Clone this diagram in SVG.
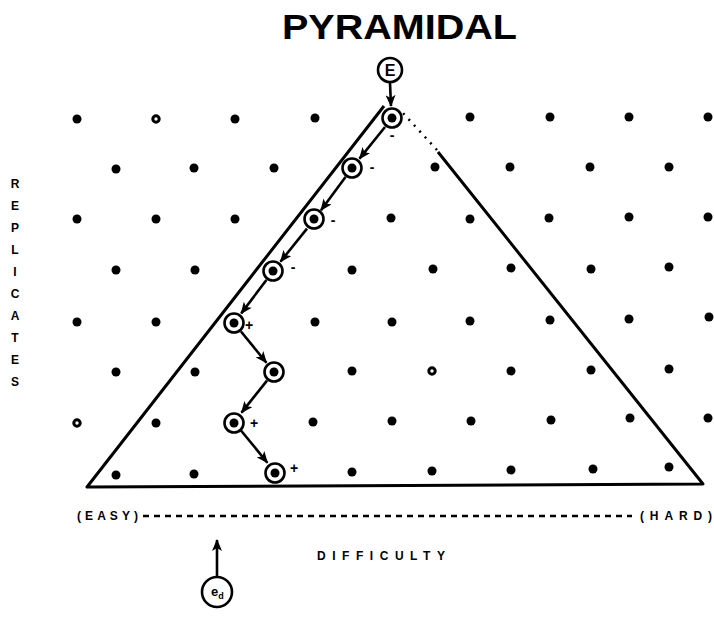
<svg xmlns="http://www.w3.org/2000/svg" width="714" height="617" viewBox="0 0 714 617">
<style>
.dot{fill:#000}
.ring{fill:#fff;stroke:#000;stroke-width:3}
.node circle.o{fill:#fff;stroke:#000;stroke-width:2.6}
.node circle.i{fill:#000}
.edge{stroke:#000;stroke-width:2.6;fill:none}
.tri{stroke:#000;stroke-width:3;fill:none;stroke-linejoin:round}
.lbl{font-family:"Liberation Sans",Arial,sans-serif;font-weight:bold;fill:#000}
.sign{font-family:"Liberation Sans",Arial,sans-serif;font-weight:bold;font-size:14px;fill:#000}
</style>
<defs>
<marker id="ah" markerUnits="userSpaceOnUse" markerWidth="12" markerHeight="10" refX="11" refY="5" orient="auto">
<path d="M0,0 L12,5 L0,10 L3,5 z" fill="#000"/>
</marker>
</defs>
<rect width="714" height="617" fill="#fff"/>
<text class="lbl" x="282" y="39" font-size="35" textLength="235" lengthAdjust="spacingAndGlyphs">PYRAMIDAL</text>
<g id="grid">
<circle class="dot" cx="77" cy="119" r="4.5"/><circle class="ring" cx="156" cy="119" r="3.2"/><circle class="dot" cx="235" cy="119" r="4.5"/><circle class="dot" cx="315" cy="118" r="4.5"/><circle class="dot" cx="470" cy="117" r="4.5"/><circle class="dot" cx="550" cy="117" r="4.5"/><circle class="dot" cx="629" cy="117" r="4.5"/><circle class="dot" cx="708" cy="117" r="4.5"/>
<circle class="dot" cx="116" cy="169" r="4.5"/><circle class="dot" cx="194" cy="168" r="4.5"/><circle class="dot" cx="274" cy="168" r="4.5"/><circle class="dot" cx="435" cy="167" r="4.5"/><circle class="dot" cx="510" cy="167" r="4.5"/><circle class="dot" cx="590" cy="167" r="4.5"/><circle class="dot" cx="669" cy="167" r="4.5"/>
<circle class="dot" cx="77" cy="219" r="4.5"/><circle class="dot" cx="156" cy="219" r="4.5"/><circle class="dot" cx="235" cy="219" r="4.5"/><circle class="dot" cx="391" cy="218" r="4.5"/><circle class="dot" cx="470" cy="219" r="4.5"/><circle class="dot" cx="549" cy="218" r="4.5"/><circle class="dot" cx="629" cy="217" r="4.5"/><circle class="dot" cx="708" cy="217" r="4.5"/>
<circle class="dot" cx="116" cy="270" r="4.5"/><circle class="dot" cx="195" cy="270" r="4.5"/><circle class="dot" cx="352" cy="270" r="4.5"/><circle class="dot" cx="433" cy="269" r="4.5"/><circle class="dot" cx="511" cy="268" r="4.5"/><circle class="dot" cx="591" cy="269" r="4.5"/><circle class="dot" cx="669" cy="267" r="4.5"/>
<circle class="dot" cx="77" cy="322" r="4.5"/><circle class="dot" cx="156" cy="322" r="4.5"/><circle class="dot" cx="315" cy="322" r="4.5"/><circle class="dot" cx="392" cy="322" r="4.5"/><circle class="dot" cx="470" cy="321" r="4.5"/><circle class="dot" cx="550" cy="320" r="4.5"/><circle class="dot" cx="629" cy="319" r="4.5"/><circle class="dot" cx="709" cy="317" r="4.5"/>
<circle class="dot" cx="116" cy="372" r="4.5"/><circle class="dot" cx="195" cy="372" r="4.5"/><circle class="dot" cx="352" cy="371" r="4.5"/><circle class="ring" cx="432" cy="371" r="3.2"/><circle class="dot" cx="511" cy="371" r="4.5"/><circle class="dot" cx="591" cy="370" r="4.5"/><circle class="dot" cx="669" cy="369" r="4.5"/>
<circle class="ring" cx="77" cy="423" r="3.2"/><circle class="dot" cx="156" cy="423" r="4.5"/><circle class="dot" cx="313" cy="422" r="4.5"/><circle class="dot" cx="392" cy="421" r="4.5"/><circle class="dot" cx="471" cy="421" r="4.5"/><circle class="dot" cx="551" cy="420" r="4.5"/><circle class="dot" cx="630" cy="418" r="4.5"/><circle class="dot" cx="708" cy="418" r="4.5"/>
<circle class="dot" cx="116" cy="475" r="4.5"/><circle class="dot" cx="194" cy="474" r="4.5"/><circle class="dot" cx="352" cy="472" r="4.5"/><circle class="dot" cx="432" cy="471" r="4.5"/><circle class="dot" cx="511" cy="470" r="4.5"/><circle class="dot" cx="593" cy="469" r="4.5"/><circle class="dot" cx="669" cy="467" r="4.5"/>
</g>
<g id="triangle">
<path class="tri" d="M384,106 L87,487 L703,484 L438,152"/>
<path d="M437,150 L402,112" stroke="#000" stroke-width="2.5" stroke-dasharray="2,6" fill="none"/>
</g>
<g id="connectors">
<line class="edge" x1="390" y1="83" x2="391" y2="106" marker-end="url(#ah)"/>
<line class="edge" x1="385" y1="127" x2="359.5" y2="158.6" marker-end="url(#ah)"/>
<line class="edge" x1="345.5" y1="177" x2="321" y2="210.3" marker-end="url(#ah)"/>
<line class="edge" x1="307" y1="228.6" x2="280.5" y2="261.6" marker-end="url(#ah)"/>
<line class="edge" x1="266.4" y1="280" x2="241.2" y2="313.4" marker-end="url(#ah)"/>
<line class="edge" x1="241" y1="331.5" x2="266.4" y2="362.7" marker-end="url(#ah)"/>
<line class="edge" x1="267" y1="380.6" x2="241.5" y2="412.6" marker-end="url(#ah)"/>
<line class="edge" x1="241" y1="430.5" x2="267.4" y2="462.7" marker-end="url(#ah)"/>
<line class="edge" x1="217" y1="576" x2="217" y2="540" marker-end="url(#ah)"/>
</g>
<g id="E" class="node"><circle class="o" cx="390" cy="70" r="12"/><text class="lbl" x="390" y="76" font-size="16" text-anchor="middle">E</text></g>
<g id="n1" class="node"><circle class="o" cx="392" cy="118" r="9.5"/><circle class="i" cx="392" cy="118" r="4.5"/><text class="sign" x="392" y="140" text-anchor="middle">-</text></g>
<g id="n2" class="node"><circle class="o" cx="352" cy="168" r="9.5"/><circle class="i" cx="352" cy="168" r="4.5"/><text class="sign" x="372" y="172" text-anchor="middle">-</text></g>
<g id="n3" class="node"><circle class="o" cx="314" cy="219" r="9.5"/><circle class="i" cx="314" cy="219" r="4.5"/><text class="sign" x="333" y="225" text-anchor="middle">-</text></g>
<g id="n4" class="node"><circle class="o" cx="273" cy="271" r="9.5"/><circle class="i" cx="273" cy="271" r="4.5"/><text class="sign" x="293" y="272" text-anchor="middle">-</text></g>
<g id="n5" class="node"><circle class="o" cx="234" cy="323" r="9.5"/><circle class="i" cx="234" cy="323" r="4.5"/><text class="sign" x="249" y="330" font-size="11" text-anchor="middle">+</text></g>
<g id="n6" class="node"><circle class="o" cx="274" cy="372" r="9.5"/><circle class="i" cx="274" cy="372" r="4.5"/></g>
<g id="n7" class="node"><circle class="o" cx="234" cy="423" r="9.5"/><circle class="i" cx="234" cy="423" r="4.5"/><text class="sign" x="254" y="428" text-anchor="middle">+</text></g>
<g id="n8" class="node"><circle class="o" cx="275" cy="473" r="9.5"/><circle class="i" cx="275" cy="473" r="4.5"/><text class="sign" x="294" y="473" text-anchor="middle">+</text></g>
<g id="replicates" class="lbl" font-size="12" text-anchor="middle">
<text x="15" y="188">R</text><text x="15" y="210">E</text><text x="15" y="232">P</text><text x="15" y="254">L</text><text x="15" y="276">I</text><text x="15" y="298">C</text><text x="15" y="320">A</text><text x="15" y="342">T</text><text x="15" y="364">E</text><text x="15" y="386">S</text>
</g>
<g id="axis">
<text class="lbl" x="77" y="520" font-size="12" textLength="61" lengthAdjust="spacing">(EASY)</text>
<line x1="143" y1="516" x2="632" y2="516" stroke="#000" stroke-width="2.5" stroke-dasharray="6,5"/>
<text class="lbl" x="640" y="520" font-size="12" textLength="72" lengthAdjust="spacing">(HARD)</text>
<text class="lbl" x="317" y="560" font-size="12" textLength="128" lengthAdjust="spacing">DIFFICULTY</text>
</g>
<g id="ed" class="node"><circle class="o" cx="217" cy="592" r="15"/><text class="lbl" x="211" y="596" font-size="13">e<tspan font-size="9" dy="3">d</tspan></text></g>
</svg>
